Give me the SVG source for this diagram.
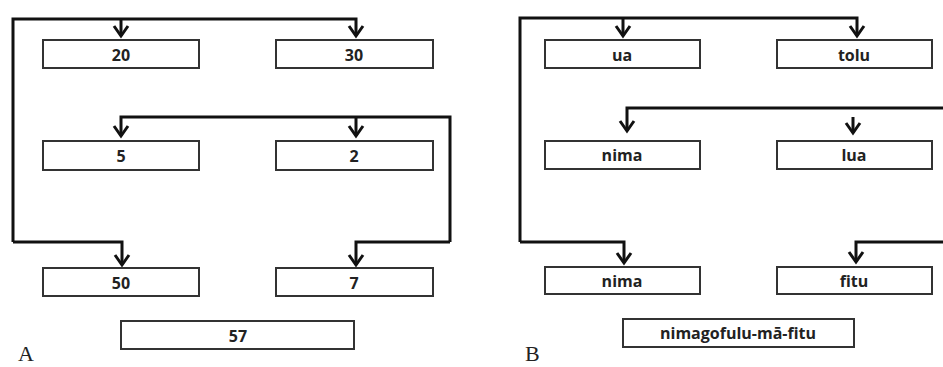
<svg xmlns="http://www.w3.org/2000/svg" width="943" height="367" viewBox="0 0 943 367">
<style>
.box rect{fill:#fff;stroke:#333;stroke-width:2}
.box text{font-family:"Open Sans","Liberation Sans",sans-serif;font-weight:700;font-size:16px;fill:#222;text-anchor:middle}
.con path{fill:none;stroke:#111;stroke-width:3;stroke-linejoin:miter}
.lbl{font-family:"Liberation Serif",serif;font-size:22px;fill:#222}
</style>
<defs>
<marker id="ah" markerUnits="userSpaceOnUse" orient="auto" refX="0" refY="0" markerWidth="20" markerHeight="20" viewBox="-12 -10 14 20" overflow="visible">
<path d="M-10,-7 L0,0 L-10,7" fill="none" stroke="#111" stroke-width="3"/>
</marker>
</defs>
<rect width="943" height="367" fill="#fff"/>
<g class="con" id="connectors">
<path d="M13,242 L13,19 L356,19 L356,36" marker-end="url(#ah)"/>
<path d="M121,19 L121,36" marker-end="url(#ah)"/>
<path d="M13,242 L122,242 L122,265" marker-end="url(#ah)"/>
<path d="M450,242 L450,117 L121,117 L121,136" marker-end="url(#ah)"/>
<path d="M356,117 L356,136" marker-end="url(#ah)"/>
<path d="M450,242 L356,242 L356,265" marker-end="url(#ah)"/>
<path d="M520,242 L520,18 L857,18 L857,36" marker-end="url(#ah)"/>
<path d="M623,18 L623,36" marker-end="url(#ah)"/>
<path d="M520,242 L624,242 L624,263" marker-end="url(#ah)"/>
<path d="M945,108 L627,108 L627,131" marker-end="url(#ah)"/>
<path d="M853,117 L853,133" marker-end="url(#ah)"/>
<path d="M945,242 L856,242 L856,262" marker-end="url(#ah)"/>
</g>
<g class="box" id="a20"><rect x="43" y="40" width="156" height="28"/><text x="121" y="61">20</text></g>
<g class="box" id="a30"><rect x="276" y="40" width="157" height="28"/><text x="354" y="61">30</text></g>
<g class="box" id="a5"><rect x="43" y="141" width="156" height="29"/><text x="121" y="162">5</text></g>
<g class="box" id="a2"><rect x="276" y="141" width="157" height="29"/><text x="354" y="162">2</text></g>
<g class="box" id="a50"><rect x="43" y="268" width="156" height="28"/><text x="121" y="289">50</text></g>
<g class="box" id="a7"><rect x="276" y="268" width="157" height="28"/><text x="354" y="289">7</text></g>
<g class="box" id="a57"><rect x="121" y="321" width="233" height="28"/><text x="238" y="342">57</text></g>
<g class="box" id="bua"><rect x="545" y="40" width="155" height="28"/><text x="622" y="61">ua</text></g>
<g class="box" id="btolu"><rect x="777" y="40" width="155" height="28"/><text x="854" y="61">tolu</text></g>
<g class="box" id="bnima1"><rect x="545" y="141" width="155" height="28"/><text x="622" y="161">nima</text></g>
<g class="box" id="blua"><rect x="777" y="141" width="155" height="28"/><text x="854" y="161">lua</text></g>
<g class="box" id="bnima2"><rect x="545" y="267" width="155" height="27"/><text x="622" y="287">nima</text></g>
<g class="box" id="bfitu"><rect x="777" y="267" width="155" height="27"/><text x="854" y="287">fitu</text></g>
<g class="box" id="bsum"><rect x="623" y="319" width="231" height="28"/><text x="738" y="339">nimagofulu-mā-fitu</text></g>
<text class="lbl" x="18" y="361">A</text>
<text class="lbl" x="525" y="361">B</text>
</svg>
